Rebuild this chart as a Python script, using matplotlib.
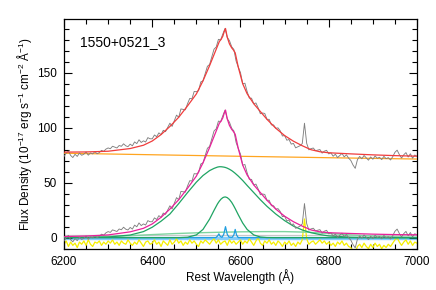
import numpy as np
import matplotlib
matplotlib.use('Agg')
import matplotlib.pyplot as plt
from matplotlib.ticker import MultipleLocator

plt.rcParams['font.family'] = ['Liberation Sans', 'DejaVu Sans']
plt.rcParams['mathtext.default'] = 'regular'

# observed spectrum (continuum subtracted) and residual, 5 A sampling
wave = np.arange(6200, 7001, 5)
flux_sub = [
    -3.0, 0.1, 2.1, -1.9, -3.8, -0.8, -2.7, 0.4, -1.6, -0.6,
    1.5, -1.4, 0.7, -0.2, 1.9, 0.0, 1.1, 3.2, 2.3, 4.4,
    5.5, 4.8, 7.1, 6.3, 5.6, 7.9, 7.2, 9.5, 7.7, 7.0,
    9.3, 7.8, 11.4, 9.9, 13.4, 11.0, 12.5, 11.5, 15.5, 14.5,
    14.5, 18.0, 16.5, 20.0, 18.5, 22.4, 21.2, 25.1, 29.0, 26.1,
    31.2, 36.4, 34.5, 42.1, 41.8, 41.4, 47.0, 51.8, 51.5, 58.2,
    58.0, 59.0, 67.0, 68.0, 74.7, 81.3, 83.0, 90.0, 97.0, 99.0,
    106.0, 105.5, 111.0, 116.0, 108.0, 105.0, 99.5, 97.0, 86.6, 81.0,
    76.0, 66.0, 66.5, 59.0, 53.0, 53.0, 48.0, 48.7, 44.3, 39.0,
    39.7, 39.3, 34.0, 34.0, 29.0, 29.0, 26.0, 26.4, 23.8, 19.1,
    19.5, 15.3, 16.0, 11.8, 12.5, 8.5, 9.5, 10.5, 12.5, 31.0,
    12.8, 6.9, 8.0, 8.6, 6.2, 6.7, 7.3, 4.1, 5.9, 6.7,
    3.5, 4.4, 1.4, 3.3, 0.2, 2.2, 4.1, 1.0, 2.9, -0.1,
    -2.2, -6.3, -9.3, -1.4, 1.6, -0.5, 2.5, 0.4, -1.7, 1.3,
    -0.8, 2.2, 0.1, 1.1, -1.0, 2.0, -0.1, 0.9, -1.2, 1.8,
    5.8, 7.8, 3.8, 0.7, 3.7, 5.7, 1.7, 4.7, 0.7, 3.6,
    2.6]
resid = [
    -6, -3, -8, -4, -7, -5, -9, -4, -6, -3,
    -7, -2, -6, -8, -4, -5, -3, -7, -4, -6,
    -3, -5, -2, -6, -4, -7, -3, -5, -6, -2,
    -5, -7, -4, -6, -2, -5, -8, -4, -3, -6,
    -5, -2, -6, -4, -8, -3, -5, -7, -2, -6,
    -4, -1, -5, -3, -7, -4, -6, -2, -5, -3,
    -6, -8, -3, -5, -2, -4, -6, -3, -1, -5,
    -2, -6, -4, -3, -7, -2, -5, -3, -6, -4,
    -2, -6, -3, -5, -1, -4, -7, -3, 0, -5,
    -7, -3, -5, -2, -6, -4, -7, -3, -5, -8,
    -4, -6, -3, -7, -5, -8, -4, -6, -2, 17,
    -1, -6, -4, -3, -6, -4, -2, -5, -3, -6,
    -4, -7, -5, -8, -4, -6, -3, -7, -5, -8,
    -9, -12, -14, -8, -6, -9, -5, -8, -10, -6,
    -9, -5, -8, -6, -10, -7, -9, -6, -8, -5,
    -2, 0, -4, -7, -4, -2, -6, -3, -7, -4,
    -5]

# fitted model curves
wave_fit = [6200, 6250, 6300, 6350, 6380, 6400, 6420, 6440, 6460, 6480,
            6500, 6515, 6530, 6540, 6548, 6552, 6556, 6560, 6563, 6566,
            6570, 6575, 6580, 6584, 6588, 6595, 6605, 6615, 6630, 6645,
            6660, 6680, 6700, 6720, 6740, 6760, 6780, 6800, 6850, 6900,
            6950, 7000]
model_total = [1.0, 1.5, 2.5, 5.3, 8.5, 12.5, 18.5, 26, 34.5, 45,
               56, 68, 82, 92, 100, 104, 106, 109, 113, 116,
               108, 102, 98.5, 96.5, 94, 81, 66, 57, 48, 41,
               34, 26, 19.5, 14.5, 10.5, 7, 5.3, 4.5, 3.8, 3.2,
               2.8, 2.6]
broad_ha = [0, 0.2, 0.6, 2.4, 5.5, 9.5, 15, 21.5, 31, 41,
            50.5, 56.5, 61, 63, 64.2, 64.5, 64.5, 64.3, 64.1, 63.8,
            63.2, 62.2, 61, 59.8, 58.5, 56, 52, 47.5, 41, 34.5,
            28.5, 21.5, 15.5, 10.5, 7, 4.5, 2.8, 1.6, 0.4, 0.1,
            0, 0]
inter_ha = [0, 0, 0, 0, 0, 0, 0, 0, 0, 0.4,
            2.5, 7.5, 16.9, 24.8, 30.8, 33.2, 35.1, 36.4, 36.9, 37.0,
            36.4, 34.7, 32.1, 29.4, 26.4, 20.8, 13.3, 7.5, 2.5, 0.6,
            0.1, 0, 0, 0, 0, 0, 0, 0, 0, 0,
            0, 0]

wave_wide = [6200, 6250, 6300, 6350, 6400, 6450, 6500, 6550, 6600, 6650,
             6700, 6750, 6800, 6850, 6900, 6950, 7000]
wide_comp = [0.2, 0.5, 1.0, 1.8, 2.8, 3.7, 4.4, 4.9, 5.3, 5.5,
             5.5, 5.0, 3.8, 2.5, 1.5, 0.8, 0.4]
flat_comp = [2.3, 2.3, 2.3, 2.3, 2.3, 2.3, 2.3, 2.3, 2.3, 2.3,
             2.3, 2.3, 2.3, 2.3, 2.3, 2.3, 2.3]

wave_nar = [6200, 6544, 6548, 6551, 6554, 6558, 6562, 6566, 6570, 6574,
            6581, 6585, 6588, 6591, 6595, 7000]
narrow = [0, 0, 1.5, 3.5, 1.2, 0.3, 3, 10, 3, 0.5,
          0.3, 2.5, 7.5, 2.5, 0, 0]

wave_cont = [6200, 6400, 6600, 6800, 7000]
cont = [76.8, 75.4, 74.0, 72.7, 71.5]

flux_obs = np.array(flux_sub) + np.interp(wave, wave_cont, cont)
fit_obs = np.array(model_total) + np.interp(wave_fit, wave_cont, cont)

fig = plt.figure(figsize=(4.36, 2.9), dpi=100)
ax = fig.add_axes([0.1468, 0.1414, 0.8096, 0.7914])

ax.plot([6200, 7000], [0, 0], color='#87cefa', lw=2.4, zorder=1)
ax.plot(wave_wide, flat_comp, color='#c8c8c8', lw=0.9, zorder=2)
ax.plot(wave, resid, color='#f5ee00', lw=0.9, zorder=2)
ax.plot(wave_wide, wide_comp, color='#7fd4a0', lw=1.0, zorder=3)
ax.plot(wave_nar, narrow, color='#1e9ee0', lw=0.9, zorder=3)
ax.plot(wave_fit, broad_ha, color='#1fa463', lw=0.9, zorder=3)
ax.plot(wave_fit, inter_ha, color='#1fa463', lw=0.9, zorder=3)
ax.plot(wave_cont, cont, color='#ffa520', lw=0.9, zorder=3)
ax.plot(wave, flux_obs, color='#808080', lw=0.65, zorder=4)
ax.plot(wave, flux_sub, color='#808080', lw=0.65, zorder=4)
ax.plot(wave_fit, fit_obs, color='#f03c3c', lw=0.9, zorder=5)
ax.plot(wave_fit, model_total, color='#e8209a', lw=0.9, zorder=5)

ax.set_xlim(6200, 7000)
ax.set_ylim(-10.3, 198.4)
ax.xaxis.set_major_locator(MultipleLocator(200))
ax.xaxis.set_minor_locator(MultipleLocator(50))
ax.yaxis.set_major_locator(MultipleLocator(50))
ax.yaxis.set_minor_locator(MultipleLocator(10))
ax.tick_params(which='both', direction='in', top=True, right=True,
               labelsize=8.5, width=0.8, pad=5)
ax.tick_params(which='major', length=6)
ax.tick_params(which='minor', length=3.5)
for s in ax.spines.values():
    s.set_linewidth(0.9)

ax.set_xlabel('Rest Wavelength (Å)', fontsize=8.5, labelpad=1)
ax.set_ylabel('Flux Density (10$^{-17}$ erg s$^{-1}$ cm$^{-2}$ Å$^{-1}$)',
              fontsize=8.5, labelpad=2)
ax.text(0.045, 0.9, '1550+0521_3', transform=ax.transAxes, fontsize=10,
        va='center', ha='left')

fig.savefig('out.png', dpi=100)
